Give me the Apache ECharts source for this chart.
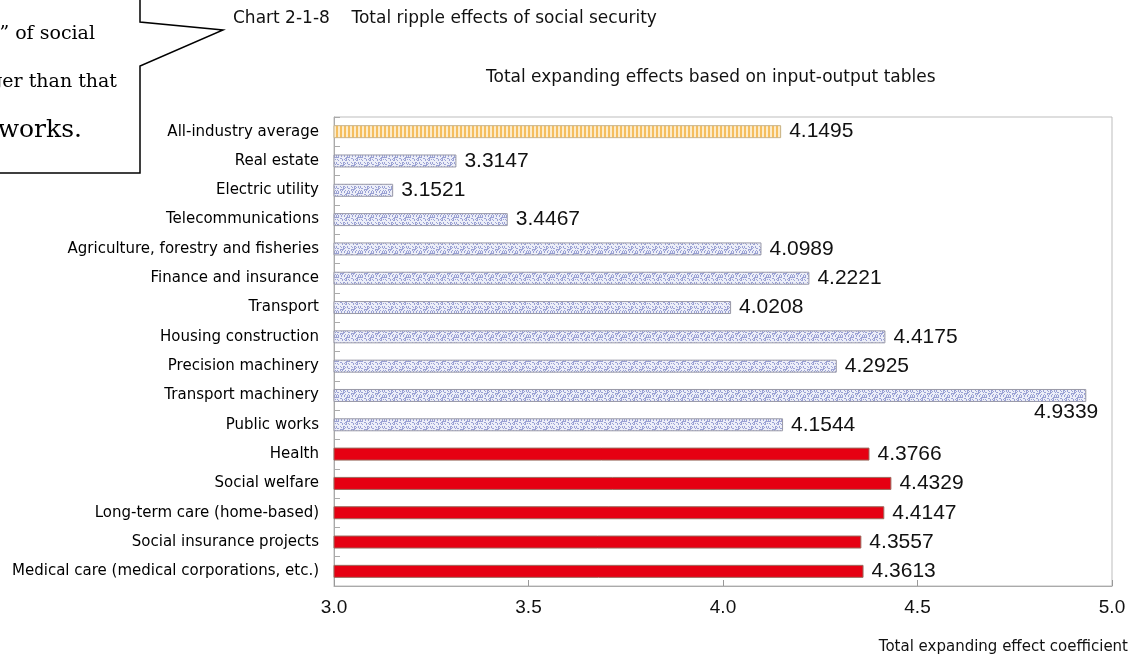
<!DOCTYPE html>
<html>
<head>
<meta charset="utf-8">
<title>Total ripple effects of social security</title>
<script src="https://cdn.jsdelivr.net/npm/echarts@6/dist/echarts.min.js"></script>
<style>
  html, body { margin: 0; padding: 0; background: #fff; }
  #chart { width: 1138px; height: 658px; }
</style>
</head>
<body>
<div id="chart"></div>
<script>
// categories, top to bottom
var categories = [
    'All-industry average',
    'Real estate',
    'Electric utility',
    'Telecommunications',
    'Agriculture, forestry and fisheries',
    'Finance and insurance',
    'Transport',
    'Housing construction',
    'Precision machinery',
    'Transport machinery',
    'Public works',
    'Health',
    'Social welfare',
    'Long-term care (home-based)',
    'Social insurance projects',
    'Medical care (medical corporations, etc.)'
];
var values = [4.1495, 3.3147, 3.1521, 3.4467, 4.0989, 4.2221, 4.0208, 4.4175,
    4.2925, 4.9339, 4.1544, 4.3766, 4.4329, 4.4147, 4.3557, 4.3613];
// group of each category: average / other industries / social security
var groups = ['average', 'other', 'other', 'other', 'other', 'other', 'other', 'other',
    'other', 'other', 'other', 'social', 'social', 'social', 'social', 'social'];
var xTicks = [3.0, 3.5, 4.0, 4.5, 5.0];

// fill patterns
function stripePattern() {
    var c = document.createElement('canvas');
    c.width = 4; c.height = 4;
    var ctx = c.getContext('2d');
    ctx.fillStyle = '#fdeccb';
    ctx.fillRect(0, 0, 4, 4);
    ctx.fillStyle = '#f5be5e';
    ctx.fillRect(0, 0, 2, 4);
    return c;
}
function marblePattern() {
    var c = document.createElement('canvas');
    c.width = 24; c.height = 12;
    var ctx = c.getContext('2d');
    ctx.fillStyle = '#eceef8';
    ctx.fillRect(0, 0, 24, 12);
    ctx.fillStyle = '#9aa1d4';
    for (var x = 0; x < 24; x++) {
        for (var y = 0; y < 12; y++) {
            var h = (x * 7 + y * 13 + x * y * 3) % 11;
            if (h < 4) ctx.fillRect(x, y, 1, 1);
        }
    }
    return c;
}
var stripe = stripePattern();
var marble = marblePattern();

function styleFor(g) {
    if (g === 'average') {
        return { color: { image: stripe, repeat: 'repeat' }, borderColor: '#c8b48a', borderWidth: 1 };
    }
    if (g === 'other') {
        return { color: { image: marble, repeat: 'repeat' }, borderColor: '#9a9aa8', borderWidth: 1 };
    }
    return { color: '#e60012', borderColor: '#9b6a5e', borderWidth: 1 };
}

var barData = values.map(function (v, i) {
    var item = { value: v, itemStyle: styleFor(groups[i]) };
    if (v === Math.max.apply(null, values)) {
        // longest bar: label sits under its end
        item.label = { position: ['100%', '100%'], align: 'right', verticalAlign: 'top', offset: [12, 0] };
    }
    return item;
});

var chart = echarts.init(document.getElementById('chart'));
var option = {
    animation: false,
    title: [{
        text: 'Chart 2-1-8    Total ripple effects of social security',
        left: 228, top: 5,
        textStyle: { fontFamily: 'DejaVu Sans', fontSize: 17, fontWeight: 'normal', color: '#111' }
    }, {
        text: 'Total expanding effects based on input-output tables',
        left: 481, top: 64,
        textStyle: { fontFamily: 'DejaVu Sans', fontSize: 17, fontWeight: 'normal', color: '#111' }
    }],
    graphic: [{
        type: 'polyline',
        shape: { points: [[140, -5], [140, 22], [223, 30], [140, 66], [140, 173], [-5, 173]] },
        style: { fill: '#fff', stroke: '#000', lineWidth: 1.5 }
    }, {
        type: 'text', x: 95, y: 34,
        style: { text: '\u201ctotal ripple effect\u201d of social', align: 'right', verticalAlign: 'middle',
            font: '19px "DejaVu Serif"', fill: '#000' }
    }, {
        type: 'text', x: 117, y: 82,
        style: { text: 'security is larger than that', align: 'right', verticalAlign: 'middle',
            font: '19px "DejaVu Serif"', fill: '#000' }
    }, {
        type: 'text', x: 82, y: 130,
        style: { text: 'of public works.', align: 'right', verticalAlign: 'middle',
            font: '25px "DejaVu Serif"', fill: '#000' }
    }],
    grid: {
        left: 334, right: 26, top: 117, bottom: 72,
        show: true, borderColor: '#bdbdbd', borderWidth: 1
    },
    xAxis: {
        type: 'value',
        min: xTicks[0], max: xTicks[xTicks.length - 1], interval: 0.5,
        name: 'Total expanding effect coefficient',
        nameLocation: 'end', nameGap: 16,
        nameTextStyle: { fontFamily: 'DejaVu Sans', fontSize: 15, color: '#111',
            align: 'right', verticalAlign: 'top', padding: [54, 0, 0, 0] },
        axisLine: { show: true, lineStyle: { color: '#aaa' } },
        axisTick: { show: true, inside: true, length: 6, lineStyle: { color: '#999' } },
        splitLine: { show: false },
        axisLabel: { margin: 12, fontFamily: 'Liberation Sans', fontSize: 19, color: '#111',
            formatter: function (v) { return v.toFixed(1); } }
    },
    yAxis: {
        type: 'category',
        data: categories,
        inverse: true,
        axisLine: { show: true, lineStyle: { color: '#aaa' } },
        axisTick: { show: true, inside: true, length: 6, lineStyle: { color: '#aaa' } },
        axisLabel: { margin: 15, fontFamily: 'DejaVu Sans', fontSize: 15, color: '#000' }
    },
    series: [{
        type: 'bar',
        data: barData,
        barWidth: 13,
        clip: true,
        label: {
            show: true, position: 'right', distance: 8,
            fontFamily: 'Liberation Sans', fontSize: 21, color: '#111',
            formatter: function (p) { return p.value.toFixed(4); }
        }
    }]
};
chart.setOption(option);
</script>
</body>
</html>
